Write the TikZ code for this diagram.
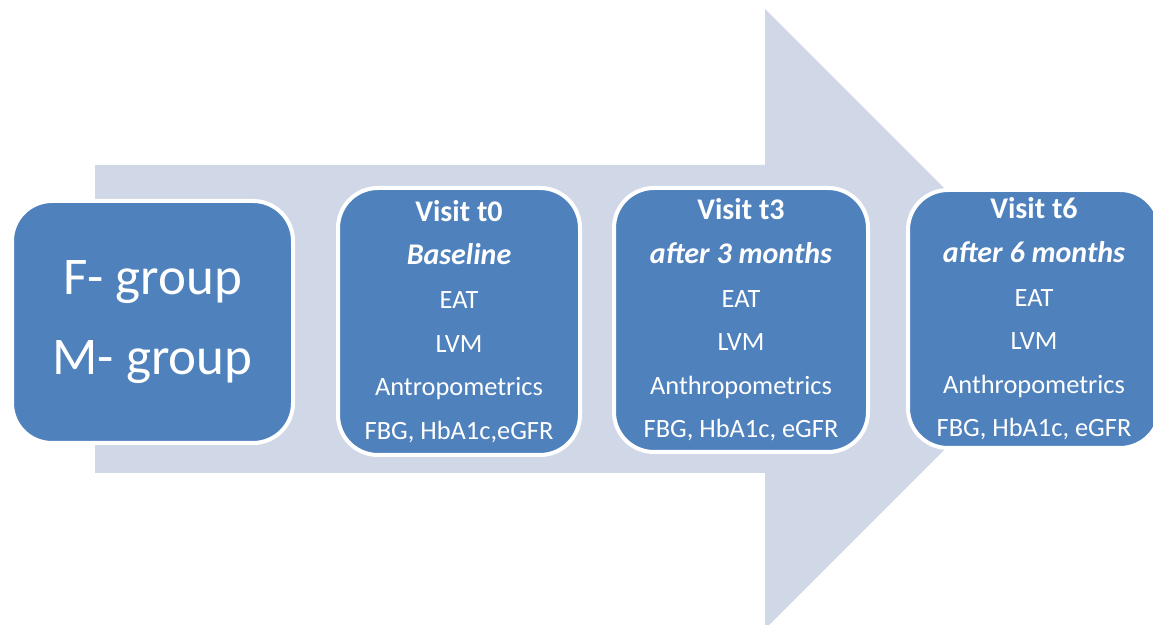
\documentclass[tikz,border=0pt]{standalone}
\usepackage{fontspec}
\setmainfont{Carlito}
\definecolor{boxblue}{RGB}{79, 129, 189}
\definecolor{arrowgrey}{RGB}{208, 216, 232}
\usetikzlibrary{positioning}
\newcommand{\headfont}{\fontsize{15}{21.8}\selectfont\bfseries}
\tikzset{
  visitbox/.style={draw=white, line width=2pt, fill=boxblue, rounded corners=20pt,
    text=white, align=center, inner sep=0pt, font=\fontsize{13.2}{21.8}\selectfont},
}
\begin{document}
\begin{tikzpicture}[x=0.5pt, y=-0.5pt]
  \useasboundingbox (0,0) rectangle (1153,625);
  % big background arrow
  \fill[arrowgrey] (95,165) -- (765,165) -- (765,9) -- (1075,319) -- (765,629)
    -- (765,473) -- (95,473) -- cycle;
  % groups
  \node[visitbox, minimum width=140.5pt, minimum height=121pt,
    font=\fontsize{26.5}{40}\selectfont] (groups) at (152.5,322) {F- group\\M- group};
  % visits
  \node[visitbox, minimum width=121pt, minimum height=133.5pt] (visit0) at (459,321.5) {
    {\headfont Visit t0}\\{\headfont\itshape Baseline}\\EAT\\LVM\\Antropometrics\\FBG, HbA1c,eGFR};
  \node[visitbox, minimum width=127pt, minimum height=132pt] (visit3) at (741,320) {
    {\headfont Visit t3}\\{\headfont\itshape after 3 months}\\EAT\\LVM\\Anthropometrics\\FBG, HbA1c, eGFR};
  \node[visitbox, minimum width=126pt, minimum height=129pt] (visit6) at (1034,319) {
    {\headfont Visit t6}\\{\headfont\itshape after 6 months}\\EAT\\LVM\\Anthropometrics\\FBG, HbA1c, eGFR};
\end{tikzpicture}
\end{document}
